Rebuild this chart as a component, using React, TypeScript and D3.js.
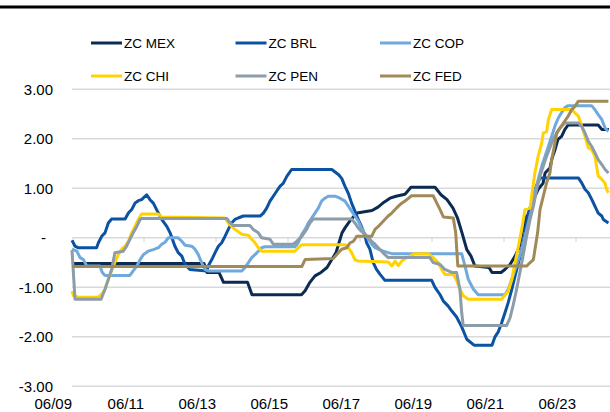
import React from "react";
import * as d3 from "d3";

// Month offsets from June 2009 paired with the reading for that month.
type Pt = [number, number];

const seriesNames = ["ZC MEX", "ZC BRL", "ZC COP", "ZC CHI", "ZC PEN", "ZC FED"];
const seriesColors = ["#0c2b52", "#0b52a2", "#6fa9de", "#ffd200", "#8c9ca8", "#a08a58"];

const mex: Pt[] = [[0,-0.52],[44,-0.52],[45,-0.7],[49,-0.7],[50.5,-0.9],[58.5,-0.9],[60,-1.15],[76.5,-1.15],[77.7,-1.07],[79.3,-0.9],[81,-0.77],[83,-0.7],[85,-0.6],[86.5,-0.45],[88,-0.3],[89,-0.1],[90,0.1],[91,0.2],[93,0.37],[95,0.5],[100,0.55],[102,0.62],[104,0.72],[106,0.8],[108,0.84],[111,0.88],[113,1.02],[121,1.02],[123,0.87],[125,0.77],[127,0.6],[128.5,0.4],[130,0.1],[131.6,-0.24],[133,-0.37],[134.3,-0.57],[139,-0.6],[140,-0.7],[143,-0.7],[144.3,-0.64],[146,-0.54],[147.7,-0.37],[149,-0.2],[150,0.1],[151.6,0.44],[152.7,0.5],[153.8,0.77],[155.4,0.98],[157,1.1],[157.7,1.31],[159.3,1.41],[160,1.6],[161,1.78],[162,1.99],[163.2,2.05],[164.3,2.19],[165.4,2.28],[175.4,2.28],[176.6,2.19],[179,2.19]];

const brl: Pt[] = [[0,-0.05],[1,-0.17],[2,-0.2],[8.2,-0.2],[8.8,-0.1],[9.9,0.03],[11,0.1],[12.1,0.3],[13.2,0.38],[17.7,0.38],[18.8,0.5],[19.9,0.57],[21,0.7],[22.1,0.75],[23.2,0.77],[24.9,0.87],[26,0.77],[27.1,0.7],[28.2,0.57],[29.9,0.37],[31.6,0.23],[32.7,0.1],[34.3,-0.17],[35.4,-0.3],[36.6,-0.37],[37.7,-0.54],[39.3,-0.64],[44.9,-0.67],[45.4,-0.57],[46.6,-0.44],[47.7,-0.3],[48.8,-0.17],[49.9,-0.1],[51,0.03],[52.1,0.17],[53.2,0.3],[54.3,0.37],[55.4,0.4],[57.1,0.44],[62.7,0.44],[63.8,0.5],[64.9,0.6],[66,0.74],[67.1,0.84],[68.2,0.94],[69.3,1.04],[70.4,1.1],[71.6,1.24],[73.2,1.38],[86.6,1.38],[87.7,1.33],[88.8,1.28],[89.9,1.2],[91,1.04],[92.1,0.9],[93.2,0.7],[94.3,0.54],[95.4,0.37],[96.5,0.23],[97.7,0.03],[98.2,-0.1],[99.3,-0.23],[100.4,-0.5],[101.5,-0.64],[102.7,-0.74],[104.3,-0.86],[119.9,-0.86],[121,-1.0],[122.7,-1.15],[123.8,-1.28],[125.4,-1.38],[126.6,-1.48],[128.2,-1.6],[129.9,-1.8],[131.6,-2.05],[134,-2.17],[140,-2.17],[141,-2.0],[142.1,-1.9],[143.2,-1.72],[144.3,-1.52],[145.4,-1.31],[146.6,-1.04],[147.7,-0.77],[148.8,-0.5],[149.9,-0.24],[151,0.1],[152.1,0.5],[153.2,0.7],[154.3,0.98],[156,1.21],[168.8,1.21],[169.9,1.11],[171,0.98],[172.1,0.91],[173.2,0.78],[174.3,0.64],[175.4,0.5],[176.6,0.44],[177.1,0.37],[178.8,0.3]];

const cop: Pt[] = [[0,-0.23],[1.6,-0.27],[2.7,-0.4],[3.8,-0.44],[4.9,-0.57],[9.3,-0.57],[10.1,-0.7],[11,-0.76],[19.3,-0.76],[20.4,-0.67],[21.6,-0.57],[22.7,-0.44],[23.8,-0.34],[25.4,-0.27],[27.1,-0.24],[28.8,-0.2],[29.9,-0.13],[31,-0.09],[32.1,0],[35.4,0],[36.6,-0.07],[37.7,-0.15],[39.9,-0.17],[41,-0.23],[42.1,-0.34],[43.2,-0.5],[44.3,-0.64],[45.4,-0.67],[56.6,-0.67],[57.7,-0.6],[58.8,-0.5],[59.9,-0.4],[61,-0.34],[62.1,-0.27],[63.2,-0.2],[64.3,-0.18],[74.3,-0.18],[75.4,-0.1],[76.6,0.07],[77.7,0.17],[78.8,0.3],[79.9,0.4],[81,0.5],[82.1,0.6],[83.2,0.74],[84.3,0.8],[85.4,0.84],[87.7,0.84],[89.3,0.8],[91,0.74],[92.1,0.64],[93.2,0.54],[94.3,0.44],[95.4,0.34],[96.5,0.2],[97.7,0.07],[98.8,-0.03],[99.9,-0.13],[101,-0.2],[102.1,-0.23],[103.8,-0.27],[105.4,-0.3],[106.6,-0.32],[129.9,-0.32],[131,-0.57],[132.1,-0.84],[133.8,-1.04],[135.4,-1.15],[144.3,-1.15],[145.4,-1.04],[146.6,-0.84],[147.7,-0.64],[148.8,-0.44],[149.9,-0.24],[151,0.03],[152.1,0.3],[153.2,0.57],[154.3,0.91],[155.4,1.18],[156.6,1.45],[157.7,1.65],[158.8,1.85],[159.9,2.05],[161,2.26],[162.1,2.42],[163.2,2.53],[164.3,2.63],[165.4,2.67],[173.2,2.67],[174.3,2.59],[175.4,2.49],[176.6,2.39],[177.7,2.22],[178.8,2.15]];

const chi: Pt[] = [[0,-1.08],[0.5,-1.17],[2,-1.2],[8.8,-1.2],[9.9,-1.14],[11,-1.04],[12.1,-0.84],[13.2,-0.67],[14.3,-0.5],[15.4,-0.34],[16.6,-0.23],[17.7,-0.17],[18.8,-0.07],[19.9,0.1],[21,0.23],[22.1,0.37],[23.2,0.48],[28.8,0.48],[29.9,0.42],[51,0.4],[52.1,0.3],[53.2,0.23],[54.3,0.17],[56.6,0.07],[58.8,0.05],[59.9,-0.03],[61,-0.1],[62.1,-0.2],[63.2,-0.27],[74.3,-0.27],[75.4,-0.2],[76.6,-0.14],[91,-0.14],[92.1,-0.2],[93.2,-0.3],[94.3,-0.44],[95.4,-0.47],[105.4,-0.49],[106.6,-0.57],[107.7,-0.47],[108.8,-0.56],[109.9,-0.47],[111.6,-0.4],[114.3,-0.32],[118.8,-0.32],[120.4,-0.4],[122.1,-0.5],[123.2,-0.64],[124.3,-0.74],[127.1,-0.74],[128.2,-0.86],[129.3,-1.04],[130.4,-1.17],[132.1,-1.24],[143.2,-1.24],[144.3,-1.16],[145.4,-1.08],[146.6,-0.84],[147.7,-0.5],[148.8,-0.17],[149.9,0.17],[151,0.57],[152.7,0.6],[153.2,0.84],[154.3,1.31],[155.4,1.65],[156.6,1.92],[157.1,2.12],[158.2,2.14],[158.8,2.39],[159.9,2.59],[166.6,2.59],[167.7,2.52],[168.8,2.46],[169.9,2.26],[171,2.05],[172.1,1.82],[173.2,1.78],[174.3,1.65],[175.4,1.25],[176.6,1.18],[177.7,1.1],[178.2,0.98],[178.8,0.91]];

const pen: Pt[] = [[0,-0.25],[1,-1.24],[9.7,-1.24],[11,-1.04],[12.1,-0.84],[13.2,-0.64],[14.3,-0.3],[17.1,-0.27],[18.2,-0.17],[19.3,-0.03],[20.4,0.1],[21.6,0.23],[22.7,0.37],[23.2,0.39],[51.6,0.39],[52.7,0.3],[53.8,0.25],[59.3,0.25],[60.4,0.17],[62.1,0.1],[63.2,0],[66,-0.03],[67.1,-0.13],[73.8,-0.13],[74.9,-0.07],[76.6,0.03],[78.2,0.17],[79.3,0.3],[80.4,0.38],[93.2,0.38],[94.3,0.3],[95.4,0.2],[96.5,0.13],[97.7,0.07],[98.8,0],[99.9,-0.07],[101,-0.13],[102.1,-0.2],[103.2,-0.27],[104.3,-0.34],[105.4,-0.4],[119.3,-0.4],[120.4,-0.5],[122.7,-0.54],[124.3,-0.64],[126.6,-0.7],[128.2,-0.7],[129.3,-1.04],[129.9,-1.51],[130.4,-1.77],[144.9,-1.77],[146,-1.62],[147.1,-1.35],[148.2,-1.04],[149.3,-0.7],[150.4,-0.35],[151.6,0.05],[152.7,0.37],[153.8,0.64],[154.9,0.98],[156,1.25],[157.1,1.45],[158.2,1.65],[159.3,1.82],[160.4,1.99],[161.6,2.12],[162.7,2.22],[163.8,2.29],[164.3,2.32],[168.8,2.32],[169.9,2.25],[171,2.12],[172.1,1.95],[173.2,1.85],[174.3,1.72],[175.4,1.58],[176.6,1.48],[177.7,1.38],[178.8,1.31]];

const fed: Pt[] = [[0,-0.58],[76.6,-0.58],[77.7,-0.44],[87.1,-0.42],[88.8,-0.3],[89.9,-0.23],[91.6,-0.2],[92.7,-0.1],[93.8,-0.07],[94.9,0.03],[99.9,0.03],[101,0.17],[102.1,0.23],[103.2,0.3],[104.3,0.37],[105.4,0.44],[106.6,0.5],[107.7,0.57],[108.8,0.64],[109.9,0.7],[111.6,0.77],[113.2,0.85],[120.4,0.85],[121.6,0.7],[122.7,0.57],[123.8,0.42],[127.1,0.4],[127.9,0.1],[128.6,-0.57],[151.6,-0.57],[152.7,-0.5],[153.8,-0.44],[154.3,-0.24],[155.2,0.1],[156,0.57],[157.1,0.84],[158.2,1.11],[159.3,1.31],[159.9,1.58],[161,1.92],[161.6,2.12],[162.7,2.22],[163.8,2.32],[165.4,2.46],[166.6,2.59],[167.7,2.66],[168.8,2.76],[178.8,2.76]];

const seriesData: Pt[][] = [mex, brl, cop, chi, pen, fed];

const yTicks = [3, 2, 1, 0, -1, -2, -3];
const xTickMonths = [0, 24, 48, 72, 96, 120, 144, 168];
const xTickLabels = ["06/09", "06/11", "06/13", "06/15", "06/17", "06/19", "06/21", "06/23"];

const W = 610;
const H = 412;
const FONT = "'Liberation Sans', Arial, Helvetica, sans-serif";

export default function App() {
  const x = d3.scaleLinear().domain([0, 180]).range([72, 612]);
  const y = d3.scaleLinear().domain([-3, 3]).range([386.3, 89.3]);
  const line = d3
    .line<Pt>()
    .x((d) => x(d[0]))
    .y((d) => y(d[1]));

  // accounting-style labels: a dash for zero, plain hyphen for negatives
  const fmt = (v: number) => (v === 0 ? "-" : v.toFixed(2));

  return (
    <svg
      width={W}
      height={H}
      style={{ position: "absolute", left: 0, top: 0, background: "#fff" }}
      fontFamily={FONT}
    >
      <rect width={W} height={H} fill="#fff" />
      {/* heavy rule across the top */}
      <line x1={0} x2={W} y1={7} y2={7} stroke="#000" strokeWidth={3} />

      {/* horizontal gridlines */}
      {yTicks.map((t) => (
        <line key={t} x1={72} x2={W} y1={y(t)} y2={y(t)} stroke="#d9d9d9" strokeWidth={1.5} />
      ))}

      {/* category tick marks on the zero line */}
      {xTickMonths.slice(1).map((m) => (
        <line key={m} x1={x(m)} x2={x(m)} y1={y(0)} y2={y(0) + 4} stroke="#d0d0d0" strokeWidth={1} />
      ))}

      {/* y labels */}
      {yTicks.map((t) => (
        <text
          key={t}
          x={t === 0 ? 46 : 53}
          y={y(t)}
          dy="0.36em"
          textAnchor="end"
          fontSize={15}
          fill="#000"
        >
          {fmt(t)}
        </text>
      ))}

      {/* x labels */}
      {xTickMonths.map((m, i) => (
        <text key={m} x={x(m)} y={409} textAnchor="end" fontSize={15} fill="#000">
          {xTickLabels[i]}
        </text>
      ))}

      {/* series */}
      {seriesData.map((s, i) => (
        <path
          key={seriesNames[i]}
          d={line(s) || ""}
          fill="none"
          stroke={seriesColors[i]}
          strokeWidth={3}
          strokeLinejoin="round"
          strokeLinecap="butt"
        />
      ))}

      {/* legend */}
      {seriesNames.map((n, i) => {
        const col = i % 3;
        const row = Math.floor(i / 3);
        const lx = 91 + col * 144.5;
        const ly = 43 + row * 33;
        return (
          <g key={n}>
            <line x1={lx} x2={lx + 31} y1={ly} y2={ly} stroke={seriesColors[i]} strokeWidth={3} />
            <text x={lx + 33} y={ly} dy="0.36em" fontSize={13.5} fill="#000">
              {n}
            </text>
          </g>
        );
      })}
    </svg>
  );
}
